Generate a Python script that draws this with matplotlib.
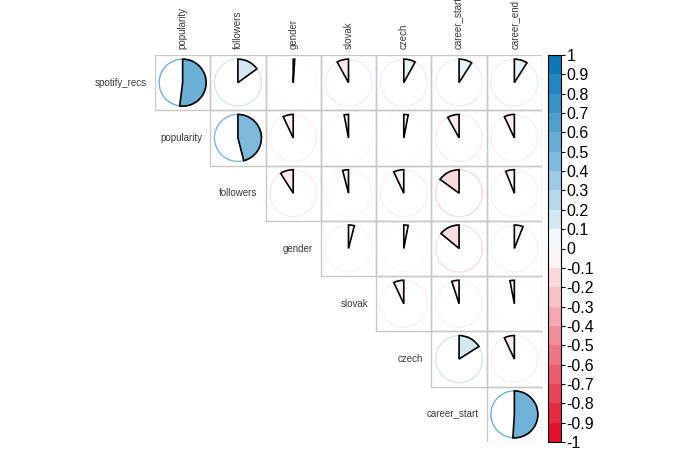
import numpy as np
import matplotlib
matplotlib.use("Agg")
import matplotlib.pyplot as plt
from matplotlib.patches import Wedge, Circle, Rectangle
from matplotlib.colors import LinearSegmentedColormap, ListedColormap, BoundaryNorm

plt.rcParams['font.family'] = ['Liberation Sans', 'DejaVu Sans']

# ─── Data ─────────────────────────────────────────────────────────────────────
row_labels = ['spotify_recs', 'popularity', 'followers', 'gender',
              'slovak', 'czech', 'career_start']
col_labels = ['popularity', 'followers', 'gender', 'slovak',
              'czech', 'career_start', 'career_end']

# upper triangle, row i holds columns i..6
corr_rows = [
    [0.52, 0.15, 0.01, -0.08, 0.08, 0.09, 0.09],
    [0.46, -0.07, -0.03, 0.03, -0.08, -0.07],
    [-0.09, -0.04, -0.07, -0.15, -0.06],
    [0.04, 0.03, -0.14, 0.06],
    [-0.07, -0.05, -0.03],
    [0.16, -0.07],
    [0.51],
]

cbar_ticks = [-1, -0.9, -0.8, -0.7, -0.6, -0.5, -0.4, -0.3, -0.2, -0.1, 0,
              0.1, 0.2, 0.3, 0.4, 0.5, 0.6, 0.7, 0.8, 0.9, 1]
cbar_labels = ['-1', '-0.9', '-0.8', '-0.7', '-0.6', '-0.5', '-0.4', '-0.3',
               '-0.2', '-0.1', '0', '0.1', '0.2', '0.3', '0.4', '0.5', '0.6',
               '0.7', '0.8', '0.9', '1']

# ─── Colours ──────────────────────────────────────────────────────────────────
cmap = LinearSegmentedColormap.from_list('rdbu_corr', [
    (0.0, '#DE0622'),
    (0.5, '#FFFFFF'),
    (0.75, '#72B3D8'),
    (1.0, '#0571B0'),
])

def corr_colour(r):
    return cmap((r + 1) / 2)

# ─── Figure ───────────────────────────────────────────────────────────────────
W, H = 680, 453
fig = plt.figure(figsize=(W / 100, H / 100), dpi=100)
fig.patch.set_facecolor('white')

n = len(col_labels)
left, right, top, bottom = 155, 542, 55, 442
ax = fig.add_axes([left / W, 1 - bottom / H, (right - left) / W, (bottom - top) / H])
ax.set_xlim(-0.5, n - 0.5)
ax.set_ylim(-0.5, n - 0.5)
ax.axis('off')

grid_col = '#C8C8C8'
rad = 0.425
for i, row in enumerate(corr_rows):
    y = n - 1 - i
    for k, r in enumerate(row):
        j = i + k
        ax.add_patch(Rectangle((j - 0.5, y - 0.5), 1, 1, fill=False,
                               edgecolor=grid_col, lw=1.0, zorder=1))
        col = corr_colour(r)
        ax.add_patch(Circle((j, y), rad, fill=False, edgecolor=col,
                            lw=1.0, zorder=2))
        ang = 360 * abs(r)
        if r >= 0:
            t1, t2 = 90 - ang, 90
        else:
            t1, t2 = 90, 90 + ang
        ax.add_patch(Wedge((j, y), rad, t1, t2, facecolor=col,
                           edgecolor='black', lw=1.2, zorder=3))
    # row label
    ax.text(i - 0.65, y, row_labels[i], ha='right', va='center',
            fontsize=7, color='#3A3A3A')

for j, lab in enumerate(col_labels):
    ax.text(j, n - 0.5 + 0.1, lab, ha='center', va='bottom', rotation=90,
            fontsize=7, color='#3A3A3A', clip_on=False)

# ─── Colour bar ───────────────────────────────────────────────────────────────
cax = fig.add_axes([548 / W, 1 - bottom / H, 13 / W, (bottom - top) / H])
bounds = np.linspace(-1, 1, 21)
centres = (bounds[:-1] + bounds[1:]) / 2
band_cmap = ListedColormap([corr_colour(c) for c in centres])
norm = BoundaryNorm(bounds, band_cmap.N)
cb = fig.colorbar(plt.cm.ScalarMappable(norm=norm, cmap=band_cmap), cax=cax,
                  ticks=cbar_ticks)
cb.set_ticklabels(cbar_labels)
cb.ax.tick_params(labelsize=11.5, length=3, width=0.8, pad=1)
cb.outline.set_linewidth(0.8)

fig.savefig('out.png', dpi=100)
